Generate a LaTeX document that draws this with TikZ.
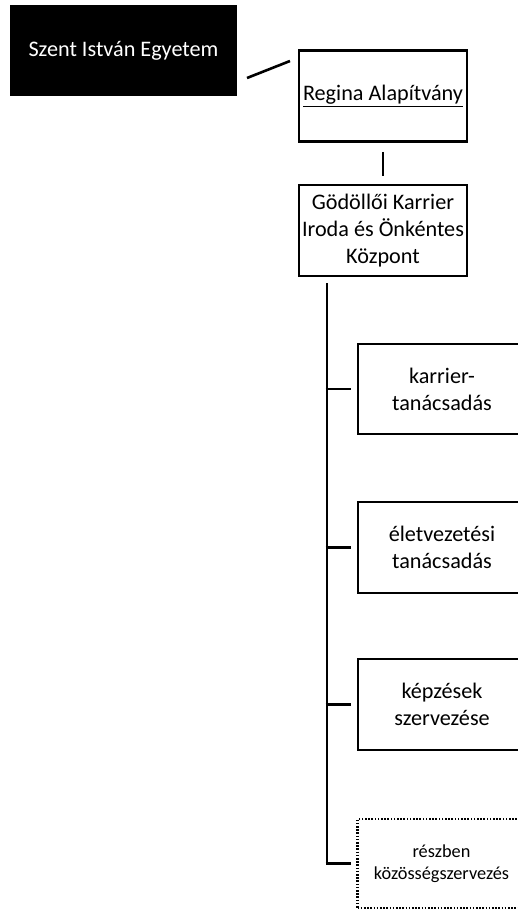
\documentclass[tikz,border=0pt]{standalone}
\usepackage{fontspec}
\setmainfont{Carlito}
\begin{document}
\begin{tikzpicture}[x=1pt,y=-1pt,
  box/.style={draw=black,line width=2.6pt,fill=white,minimum width=168pt,minimum height=91pt,inner sep=0pt,align=center,font=\fontsize{22.2}{27}\selectfont},
  blackbox/.style={fill=black,text=white,minimum width=227pt,minimum height=91pt,inner sep=0pt,align=center,font=\fontsize{22.2}{27}\selectfont},
  dotbox/.style={draw=black,line width=2.4pt,dash pattern=on 1.6pt off 1.6pt,minimum width=168pt,minimum height=89pt,inner sep=0pt,align=center,font=\fontsize{18.3}{22}\selectfont},
  conn/.style={line width=2.6pt}]
\useasboundingbox (0,0) rectangle (518,911);
\clip (0,0) rectangle (518,911);
\fill[white] (0,0) rectangle (518,911);
\node[blackbox] (sie) at (123.5,50.5) {Szent István Egyetem};
\node[box] (reg) at (383,96) {\underline{Regina Alapítvány}};
\node[box] (god) at (383,230.5) {Gödöllői Karrier\\Iroda és Önkéntes\\Központ};
\node[box,minimum height=90pt] (kar) at (442,389) {karrier-\\tanácsadás};
\node[box] (elet) at (442,547.5) {életvezetési\\tanácsadás};
\node[box] (kepz) at (442,704.5) {képzések\\szervezése};
\node[dotbox] (resz) at (441.5,863.5) {részben\\közösségszervezés};
\coordinate (d1) at (247,78);
\coordinate (d2) at (290,61);
\draw[conn] (d1) -- (d2);
\draw[conn,shorten <=9pt,shorten >=8pt] (reg) -- (god);
\coordinate (t0) at (327,283);
\coordinate (t1) at (327,389);
\coordinate (t2) at (327,547.5);
\coordinate (t3) at (327,704.5);
\coordinate (t4) at (327,863.5);
\draw[conn] (t0) -- ([yshift=1.3pt]t4);
\draw[conn,shorten >=6pt] ([xshift=-1.3pt]t1) -- (kar.west);
\draw[conn,shorten >=6pt] ([xshift=-1.3pt]t2) -- (elet.west);
\draw[conn,shorten >=6pt] ([xshift=-1.3pt]t3) -- (kepz.west);
\draw[conn,shorten >=5pt] ([xshift=-1.3pt]t4) -- (resz.west);
\end{tikzpicture}
\end{document}
